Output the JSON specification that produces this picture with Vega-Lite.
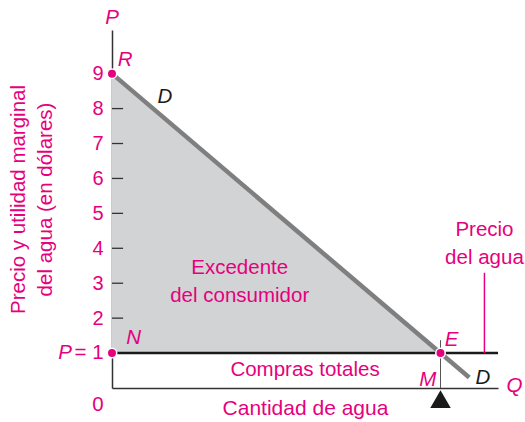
{
  "$schema": "https://vega.github.io/schema/vega-lite/v6.json",
  "width": 386,
  "height": 358,
  "autosize": "none",
  "padding": {"left": 112, "top": 30, "right": 27, "bottom": 34},
  "background": "white",
  "config": {
    "view": {"stroke": null},
    "font": "Liberation Sans",
    "text": {"font": "Liberation Sans", "fontSize": 18}
  },
  "layer": [
    {
      "data": {"values": [{"x": 0, "y": 9, "y2": 1}, {"x": 8, "y": 1, "y2": 1}]},
      "mark": {"type": "area", "color": "#d1d3d4", "clip": false},
      "encoding": {
        "x": {"field": "x", "type": "quantitative", "scale": {"domain": [0, 9.4], "nice": false, "zero": false},
          "axis": {"title": "Cantidad de agua", "titleColor": "#e6007e", "titleFontSize": 21, "titleFontWeight": "normal", "titleFont": "Liberation Sans", "titlePadding": 9, "labels": false, "ticks": false, "grid": false, "domainColor": "#333333", "domainWidth": 1.5}},
        "y": {"field": "y", "type": "quantitative", "scale": {"domain": [0, 10.25], "nice": false, "zero": false},
          "axis": {"title": ["Precio y utilidad marginal", "del agua (en dólares)"], "titleColor": "#e6007e", "titleFontSize": 20.5, "titleFontWeight": "normal", "titleFont": "Liberation Sans", "titleLineHeight": 27, "titlePadding": 36, "titleY": 169, "values": [2, 3, 4, 5, 6, 7, 8, 9], "labelColor": "#e6007e", "labelFontSize": 20, "labelFont": "Liberation Sans", "labelPadding": 9, "ticks": false, "grid": false, "domainColor": "#333333", "domainWidth": 1.5}},
        "y2": {"field": "y2"}
      }
    },
    {
      "data": {"values": [{"y": 2}, {"y": 3}, {"y": 4}, {"y": 5}, {"y": 6}, {"y": 7}, {"y": 8}]},
      "mark": {"type": "rule", "color": "#333333", "strokeWidth": 1.3},
      "encoding": {
        "x": {"datum": 0, "type": "quantitative"},
        "x2": {"datum": 0.27},
        "y": {"field": "y", "type": "quantitative"}
      }
    },
    {
      "data": {"values": [{"x": 0, "y": 1}, {"x": 9.4, "y": 1}]},
      "mark": {"type": "line", "color": "#1a1a1a", "strokeWidth": 2.5, "clip": false},
      "encoding": {
        "x": {"field": "x", "type": "quantitative"},
        "y": {"field": "y", "type": "quantitative"}
      }
    },
    {
      "data": {"values": [{"x": 8, "y": 1.37, "y2": 0}]},
      "mark": {"type": "rule", "color": "#555555", "strokeWidth": 1},
      "encoding": {
        "x": {"field": "x", "type": "quantitative"},
        "y": {"field": "y", "type": "quantitative"},
        "y2": {"field": "y2"}
      }
    },
    {
      "data": {"values": [{"x": 9.07, "y": 3.3, "y2": 1}]},
      "mark": {"type": "rule", "color": "#e6007e", "strokeWidth": 1.5},
      "encoding": {
        "x": {"field": "x", "type": "quantitative"},
        "y": {"field": "y", "type": "quantitative"},
        "y2": {"field": "y2"}
      }
    },
    {
      "data": {"values": [{"x": 0, "y": 9}, {"x": 8.7, "y": 0.3}]},
      "mark": {"type": "line", "color": "#7f7f7f", "strokeWidth": 4.5, "strokeCap": "butt", "clip": false},
      "encoding": {
        "x": {"field": "x", "type": "quantitative"},
        "y": {"field": "y", "type": "quantitative"}
      }
    },
    {
      "data": {"values": [{"x": 8, "y": -0.32}]},
      "mark": {"type": "point", "shape": "triangle-up", "filled": true, "color": "#1a1a1a", "size": 420, "opacity": 1, "clip": false},
      "encoding": {
        "x": {"field": "x", "type": "quantitative"},
        "y": {"field": "y", "type": "quantitative"}
      }
    },
    {
      "data": {"values": [{"x": 0, "y": 9}, {"x": 0, "y": 1}, {"x": 8, "y": 1}]},
      "mark": {"type": "point", "filled": true, "fill": "#e6007e", "stroke": "white", "strokeWidth": 1.5, "size": 90, "opacity": 1, "clip": false},
      "encoding": {
        "x": {"field": "x", "type": "quantitative"},
        "y": {"field": "y", "type": "quantitative"}
      }
    },
    {
      "data": {"values": [
        {"x": 0.32, "y": 9.4, "t": "R", "c": "pink"},
        {"x": 1.29, "y": 8.34, "t": "D", "c": "black"},
        {"x": 0.53, "y": 1.43, "t": "N", "c": "pink"},
        {"x": 8.27, "y": 1.37, "t": "E", "c": "pink"},
        {"x": 7.69, "y": 0.23, "t": "M", "c": "pink"},
        {"x": 9.03, "y": 0.29, "t": "D", "c": "black"},
        {"x": 9.8, "y": 0.05, "t": "Q", "c": "pink"},
        {"x": 0, "y": 10.6, "t": "P", "c": "pink"},
        {"x": -1.14, "y": 1, "t": "P", "c": "pink"}
      ]},
      "mark": {"type": "text", "fontStyle": "italic", "fontSize": 20.5, "baseline": "middle", "align": "center", "clip": false},
      "encoding": {
        "x": {"field": "x", "type": "quantitative"},
        "y": {"field": "y", "type": "quantitative"},
        "text": {"field": "t"},
        "color": {"field": "c", "type": "nominal", "scale": {"domain": ["pink", "black"], "range": ["#e6007e", "#1a1a1a"]}, "legend": null}
      }
    },
    {
      "data": {"values": [
        {"x": -0.56, "y": 1, "t": "= 1"},
        {"x": -0.34, "y": -0.49, "t": "0"},
        {"x": 3.11, "y": 3.43, "t": "Excedente\ndel consumidor"},
        {"x": 4.7, "y": 0.52, "t": "Compras totales"},
        {"x": 9.07, "y": 4.52, "t": "Precio\ndel agua"}
      ]},
      "mark": {"type": "text", "fontSize": 20.5, "baseline": "middle", "align": "center", "lineBreak": "\n", "lineHeight": 28, "color": "#e6007e", "clip": false},
      "encoding": {
        "x": {"field": "x", "type": "quantitative"},
        "y": {"field": "y", "type": "quantitative"},
        "text": {"field": "t"}
      }
    }
  ]
}
